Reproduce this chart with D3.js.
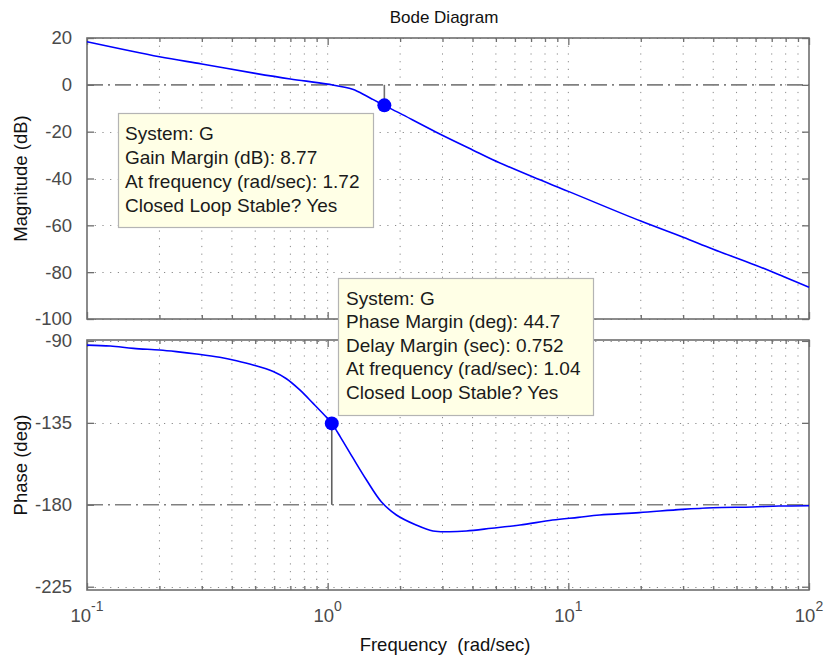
<!DOCTYPE html>
<html><head><meta charset="utf-8">
<script src="https://cdn.jsdelivr.net/npm/d3@7"></script>
<style>body{margin:0;background:#fff}svg{display:block}text{font-family:"Liberation Sans",Arial,sans-serif}</style>
</head><body>
<svg id="c" width="826" height="660"></svg>
<script>
// ---- data ----
const freqMag = [0.1, 0.2, 0.3, 0.5, 0.7, 1.0, 1.27, 1.45, 1.54, 1.72, 1.87, 2.0, 2.8, 4.0, 4.83, 7.1, 10, 20, 30, 40, 60, 80, 100];
const magDb   = [18.4, 12.0, 8.9, 4.9, 2.5, 0.3, -1.9, -4.8, -6.2, -8.77, -10.7, -12.2, -20.0, -27.8, -31.9, -39.3, -45.5, -58.2, -65.1, -70.2, -77.0, -82.3, -86.4];
const freqPhase = [0.1, 0.125, 0.156, 0.2, 0.235, 0.285, 0.356, 0.418, 0.49, 0.594, 0.674, 0.764, 0.87, 0.99, 1.04, 1.13, 1.27, 1.45, 1.67, 1.93, 2.33, 2.74, 3.2, 3.77, 4.8, 6.3, 8.6, 11, 13.5, 19.7, 29.7, 39.8, 58, 75, 100];
const phaseDeg  = [-92.3, -92.8, -94.1, -95.0, -95.9, -97.2, -99.0, -100.9, -103.2, -106.8, -110.8, -116.8, -124.3, -132.0, -135.3, -142.8, -154.0, -166.4, -178.3, -185.6, -191.1, -194.4, -194.8, -194.4, -192.9, -191.1, -188.4, -186.9, -185.6, -184.3, -182.5, -181.6, -181.2, -180.7, -180.5];
const magTicks = [20, 0, -20, -40, -60, -80, -100];
const phaseTicks = [-90, -135, -180, -225];
const decadeTicks = [0.1, 1, 10, 100];
const decadeExp = ["-1", "0", "1", "2"];
const gainMargin = {freq: 1.72, db: -8.77};
const phaseMargin = {freq: 1.04, deg: -135.3};
const gmLines = ["System: G", "Gain Margin (dB): 8.77", "At frequency (rad/sec): 1.72", "Closed Loop Stable? Yes"];
const pmLines = ["System: G", "Phase Margin (deg): 44.7", "Delay Margin (sec): 0.752", "At frequency (rad/sec): 1.04", "Closed Loop Stable? Yes"];
const titleText = "Bode Diagram";

// ---- layout ----
const L = 87, R = 809;
const topY = [38, 319], botY = [340, 590];
const svg = d3.select("#c");
const x = d3.scaleLog().domain([0.1, 100]).range([L, R]);
const yMag = d3.scaleLinear().domain([-100, 20]).range([topY[1], topY[0]]);
const yPh = d3.scaleLinear().domain([-226.8, -89.5]).range([botY[1], botY[0]]);

const minorTicks = [];
[0.1, 1, 10].forEach(d => { for (let m = 2; m <= 9; m++) minorTicks.push(d * m); });

const gridCol = "#8a8a8a", frameCol = "#6e6e6e", tickTxt = "#4a4a4a";

function panel(y, ticks, refVal, yr) {
  const g = svg.append("g");
  g.selectAll(".vg").data(minorTicks.concat(decadeTicks.slice(1, 3))).join("line")
    .attr("x1", d => x(d)).attr("x2", d => x(d)).attr("y1", yr[0]).attr("y2", yr[1])
    .attr("stroke", gridCol).attr("stroke-width", 1).attr("stroke-dasharray", "1.2,6.5");
  g.selectAll(".hg").data(ticks.filter(t => t !== refVal)).join("line")
    .attr("x1", L).attr("x2", R).attr("y1", d => Math.round(y(d)) + 0.5).attr("y2", d => Math.round(y(d)) + 0.5)
    .attr("stroke", gridCol).attr("stroke-width", 1).attr("stroke-dasharray", "1.2,6.5");
  g.append("line").attr("x1", L).attr("x2", R).attr("y1", y(refVal)).attr("y2", y(refVal))
    .attr("stroke", "#808080").attr("stroke-width", 1.6).attr("stroke-dasharray", "16,5,2,5");
  const h = yr[1] - yr[0];
  const axB = d3.axisBottom(x).tickValues(minorTicks).tickSize(-4).tickFormat("");
  const axT = d3.axisTop(x).tickValues(minorTicks).tickSize(-4).tickFormat("");
  const axBM = d3.axisBottom(x).tickValues(decadeTicks).tickSize(-7).tickFormat("");
  const axTM = d3.axisTop(x).tickValues(decadeTicks).tickSize(-7).tickFormat("");
  [[axB, yr[1]], [axT, yr[0]], [axBM, yr[1]], [axTM, yr[0]]].forEach(([ax, ty]) => {
    const a = g.append("g").attr("transform", `translate(0,${ty})`).call(ax);
    a.select(".domain").remove();
    a.selectAll("line").attr("stroke", frameCol).attr("stroke-width", 1.3);
  });
  const axL = d3.axisLeft(y).tickValues(ticks).tickSize(-7).tickPadding(15).tickFormat(d => String(d));
  const al = g.append("g").attr("transform", `translate(${L},0)`).call(axL);
  al.select(".domain").remove();
  al.selectAll("line").attr("stroke", frameCol).attr("stroke-width", 1.3);
  al.selectAll("text").attr("fill", tickTxt).attr("font-size", 18.5).attr("font-family", "Liberation Sans, Arial, sans-serif");
  const axR = d3.axisRight(y).tickValues(ticks).tickSize(-7).tickFormat("");
  const ar = g.append("g").attr("transform", `translate(${R},0)`).call(axR);
  ar.select(".domain").remove();
  ar.selectAll("line").attr("stroke", frameCol).attr("stroke-width", 1.3);
  g.append("rect").attr("x", L).attr("y", yr[0]).attr("width", R - L).attr("height", h)
    .attr("fill", "none").attr("stroke", frameCol).attr("stroke-width", 1.6);
  return g;
}

const gTop = panel(yMag, magTicks, 0, topY);
const gBot = panel(yPh, phaseTicks, -180, botY);

const line = d3.line().curve(d3.curveCatmullRom.alpha(0.5));
gTop.append("path").attr("d", line(freqMag.map((f, i) => [x(f), yMag(magDb[i])])))
  .attr("fill", "none").attr("stroke", "#0000ff").attr("stroke-width", 1.6);
gBot.append("path").attr("d", line(freqPhase.map((f, i) => [x(f), yPh(phaseDeg[i])])))
  .attr("fill", "none").attr("stroke", "#0000ff").attr("stroke-width", 1.6);

gTop.append("line").attr("x1", x(gainMargin.freq)).attr("x2", x(gainMargin.freq))
  .attr("y1", yMag(0)).attr("y2", yMag(gainMargin.db)).attr("stroke", "#707070").attr("stroke-width", 1.6);
gTop.append("circle").attr("cx", x(gainMargin.freq)).attr("cy", yMag(gainMargin.db)).attr("r", 7).attr("fill", "#0000ff");
gBot.append("line").attr("x1", x(phaseMargin.freq)).attr("x2", x(phaseMargin.freq))
  .attr("y1", yPh(-180)).attr("y2", yPh(phaseMargin.deg)).attr("stroke", "#606060").attr("stroke-width", 1.6);
gBot.append("circle").attr("cx", x(phaseMargin.freq)).attr("cy", yPh(phaseMargin.deg)).attr("r", 7).attr("fill", "#0000ff");

const xl = svg.append("g");
decadeTicks.forEach((d, i) => {
  const t = xl.append("text").attr("x", x(d)).attr("y", 622).attr("text-anchor", "middle")
    .attr("fill", tickTxt).attr("font-size", 18.5);
  t.append("tspan").text("10");
  t.append("tspan").attr("dy", -11).attr("font-size", 14).text(decadeExp[i]);
});

svg.append("text").attr("x", 444).attr("y", 23).attr("text-anchor", "middle").attr("font-size", 17).attr("fill", "#111").text(titleText);
svg.append("text").attr("x", 445).attr("y", 651).attr("text-anchor", "middle").attr("font-size", 18.5).attr("fill", "#111").attr("xml:space", "preserve").text("Frequency  (rad/sec)");
svg.append("text").attr("transform", `translate(27,${(topY[0] + topY[1]) / 2}) rotate(-90)`).attr("text-anchor", "middle").attr("font-size", 18.5).attr("fill", "#111").text("Magnitude (dB)");
svg.append("text").attr("transform", `translate(27,${(botY[0] + botY[1]) / 2}) rotate(-90)`).attr("text-anchor", "middle").attr("font-size", 18.5).attr("fill", "#111").text("Phase (deg)");

function tip(bx, by, bw, bh, lines, tx, ty0, dy) {
  const g = svg.append("g");
  g.append("rect").attr("x", bx + 0.5).attr("y", by + 0.5).attr("width", bw).attr("height", bh)
    .attr("fill", "#ffffe6").attr("stroke", "#b4b4b4").attr("stroke-width", 1.2);
  g.selectAll("text").data(lines).join("text").attr("x", tx).attr("y", (d, i) => ty0 + i * dy)
    .attr("font-size", 19).attr("fill", "#1a1a1a").text(d => d);
}
tip(118, 113, 255, 114, gmLines, 125, 140, 24);
tip(338, 278, 255, 137, pmLines, 346, 305, 23.4);
</script>
</body></html>
